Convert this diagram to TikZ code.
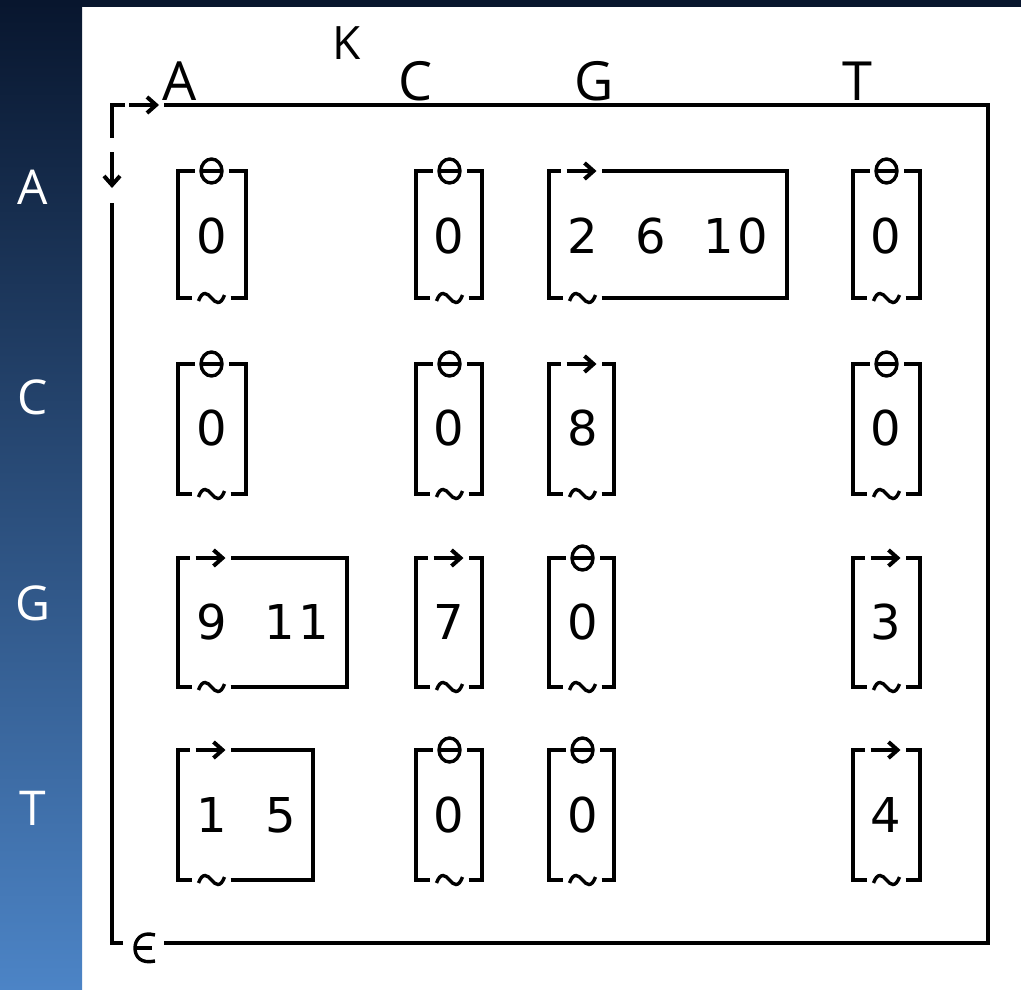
\documentclass[tikz,border=0pt]{standalone}
\usepackage{fontspec}
\setmainfont{Open Sans}
\newfontfamily\aplfont{DejaVu Sans}
\usetikzlibrary{arrows.meta}
\definecolor{navytop}{HTML}{08162E}
\definecolor{bluemid}{HTML}{1C4A80}
\definecolor{bluebot}{HTML}{4C84C6}
\tikzset{
  hdr/.style={font=\fontsize{54}{54}\selectfont, inner sep=0pt, anchor=base},
  side/.style={text=white, font=\fontsize{48}{48}\selectfont, inner sep=0pt},
  dig/.style={font=\aplfont\fontsize{48}{48}\selectfont, inner sep=0pt},
  arr/.style={-{Straight Barb[length=9pt,width=16pt]}},
  thin glyph/.style={line width=3.4pt},
}
\newcommand{\cellbox}[5]{% left, top, right, bottom, type (t = theta, a = arrow)
  \pgfmathsetmacro\cx{#1+33.5}
  \if#5t
    \draw (\cx-17,#2) -- (#1,#2) -- (#1,#4) -- (\cx-20,#4);
    \draw (\cx+19,#4) -- (#3,#4) -- (#3,#2) -- (\cx+17,#2);
    \draw[thin glyph] (\cx,#2) ellipse[x radius=10.5pt, y radius=12pt];
    \draw[thin glyph] (\cx-11,#2) -- (\cx+11,#2);
  \else
    \draw (\cx-22,#2) -- (#1,#2) -- (#1,#4) -- (\cx-20,#4);
    \draw (\cx+19,#4) -- (#3,#4) -- (#3,#2) -- (\cx+19,#2);
    \draw[arr] (\cx-16,#2) -- (\cx+14,#2);
  \fi
  \draw[thin glyph] (\cx-13,#4+3) .. controls (\cx-9,#4-8) and (\cx-4,#4-5) .. (\cx,#4)
     .. controls (\cx+4,#4+5) and (\cx+9,#4+8) .. (\cx+13,#4-3);
}
\begin{document}
\begin{tikzpicture}[x=1pt, y=-1pt, line width=4pt, line join=miter]
\useasboundingbox (0,0) rectangle (1021,990);
\fill[white] (0,0) rectangle (1021,990);
\shade[top color=navytop, middle color=bluemid, bottom color=bluebot] (0,0) rectangle (82,990);
\fill[navytop] (0,0) rectangle (1021,7);

% side labels
\node[side] (rA) at (33,187) {A};
\node[side] (rC) at (33,397) {C};
\node[side] (rG) at (33,603) {G};
\node[side] (rT) at (33,808) {T};

% column labels
\node[hdr, font=\fontsize{46}{46}\selectfont] (hK) at (347,60) {K};
\node[hdr] (hA) at (180,100) {A};
\node[hdr] (hC) at (416,100) {C};
\node[hdr] (hG) at (594,100) {G};
\node[hdr] (hT) at (857,100) {T};

% outer box
\draw (125,105) -- (112,105) -- (112,138);
\draw[arr] (129,105) -- (159,105);
\draw (164,105) -- (988,105) -- (988,943) -- (164,943);
\draw (123,943) -- (112,943) -- (112,203);
\draw[arr] (112,152) -- (112,188);
\draw[thin glyph] (155,935) .. controls (141,931) and (135,940) .. (135,948)
   .. controls (135,957) and (141,964) .. (155,961);
\draw[thin glyph] (135,948) -- (152,948);

% row A
\cellbox{178}{171}{246}{298}{t}
\cellbox{416}{171}{482}{298}{t}
\cellbox{549}{171}{787}{298}{a}
\cellbox{853}{171}{920}{298}{t}
\node[dig] (aa) at (212,236) {0};
\node[dig] (ac) at (449,236) {0};
\node[dig] (ag1) at (583,236) {2};
\node[dig] (ag2) at (651,236) {6};
\node[dig] (ag3) at (736,236) {1\kern4pt0};
\node[dig] (at) at (886,236) {0};

% row C
\cellbox{178}{364}{246}{494}{t}
\cellbox{416}{364}{482}{494}{t}
\cellbox{549}{364}{614}{494}{a}
\cellbox{853}{364}{920}{494}{t}
\node[dig] (ca) at (212,428) {0};
\node[dig] (cc) at (449,428) {0};
\node[dig] (cg) at (583,428) {8};
\node[dig] (ct) at (886,428) {0};

% row G
\cellbox{178}{558}{347}{687}{a}
\cellbox{416}{558}{482}{687}{a}
\cellbox{549}{558}{614}{687}{t}
\cellbox{853}{558}{920}{687}{a}
\node[dig] (ga1) at (212,622) {9};
\node[dig] (ga2) at (297,622) {1\kern4pt1};
\node[dig] (gc) at (449,622) {7};
\node[dig] (gg) at (583,622) {0};
\node[dig] (gt) at (886,622) {3};

% row T
\cellbox{178}{750}{313}{880}{a}
\cellbox{416}{750}{482}{880}{t}
\cellbox{549}{750}{614}{880}{t}
\cellbox{853}{750}{920}{880}{a}
\node[dig] (ta1) at (212,815) {1};
\node[dig] (ta2) at (281,815) {5};
\node[dig] (tc) at (449,815) {0};
\node[dig] (tg) at (583,815) {0};
\node[dig] (tt) at (886,815) {4};
\end{tikzpicture}
\end{document}
